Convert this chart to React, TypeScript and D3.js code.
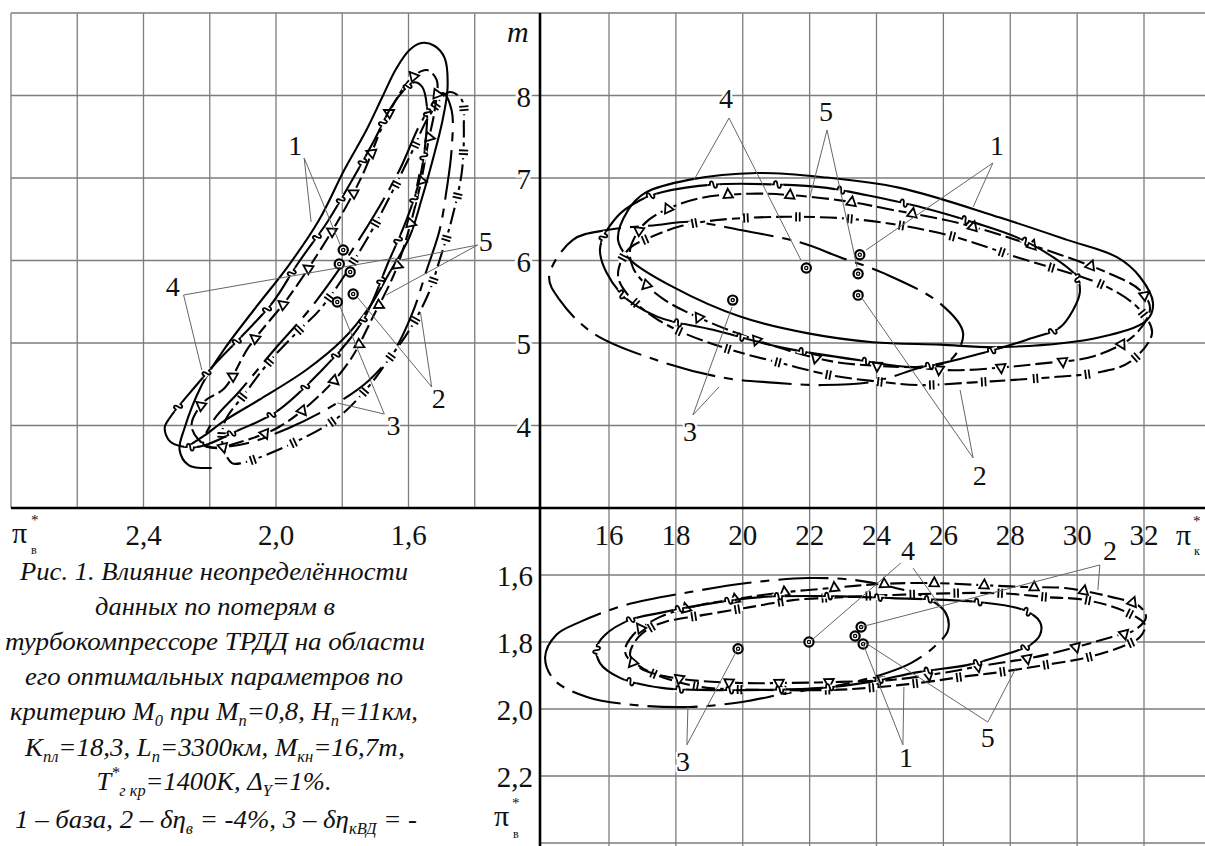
import React, { useEffect, useRef } from "react";
import * as d3 from "d3";

// ---------- axes / ticks ----------
const TL_X_GRID = [2.6, 2.4, 2.2, 2.0, 1.8, 1.6, 1.4];
const TL_X_TICKS = [2.4, 2.0, 1.6];
const M_GRID = [4, 5, 6, 7, 8];
const K_GRID = [16, 18, 20, 22, 24, 26, 28, 30, 32];
const BR_Y_GRID = [1.6, 1.8, 2.0, 2.2, 2.4];
const BR_Y_TICKS = [1.6, 1.8, 2.0, 2.2];

// ---------- top-left panel (pi_v*, m) ----------
const TL_C1 = [[2.233,3.824],[2.255,4.006],[2.218,4.285],[2.155,4.455],[2.082,4.952],[1.964,5.545],[1.876,6.067],[1.806,6.527],[1.739,7.036],[1.667,7.727],[1.591,8.212],[1.545,8.309],[1.515,8.188],[1.521,7.824],[1.539,7.461],[1.570,6.818],[1.636,5.909],[1.709,5.303],[1.776,4.794],[1.861,4.394],[1.991,3.982],[2.118,3.788],[2.188,3.727]];
const TL_C2 = [[2.133,3.545],[2.161,3.764],[2.155,4.042],[2.097,4.370],[2.021,4.770],[1.939,5.121],[1.861,5.436],[1.727,6.248],[1.597,7.255],[1.536,7.764],[1.476,8.042],[1.439,7.945],[1.433,7.618],[1.439,7.073],[1.470,6.491],[1.506,6.006],[1.539,5.606],[1.597,5.158],[1.661,4.794],[1.724,4.455],[1.815,4.091],[1.948,3.788],[2.103,3.545]];
const TL_C3 = [[2.218,3.764],[2.188,4.067],[2.112,4.406],[2.006,4.915],[1.900,5.400],[1.794,5.982],[1.703,6.552],[1.627,7.097],[1.558,7.703],[1.497,8.030],[1.470,7.824],[1.470,7.339],[1.485,6.855],[1.506,6.370],[1.545,5.885],[1.588,5.364],[1.642,4.915],[1.718,4.552],[1.815,4.273],[1.961,3.970],[2.112,3.764]];
const TL_C4 = [[2.194,3.485],[2.264,3.521],[2.291,3.703],[2.276,3.970],[2.224,4.491],[2.158,4.915],[2.067,5.400],[1.961,5.945],[1.870,6.491],[1.794,7.097],[1.727,7.582],[1.679,7.982],[1.636,8.333],[1.597,8.552],[1.561,8.636],[1.521,8.600],[1.491,8.455],[1.482,8.103],[1.497,7.703],[1.527,7.218],[1.561,6.733],[1.597,6.285],[1.658,5.848],[1.718,5.436],[1.800,5.036],[1.909,4.673],[2.052,4.309],[2.152,4.067],[2.218,3.873],[2.264,3.752]];
const TL_C5 = [[2.336,3.970],[2.321,4.091],[2.245,4.467],[2.179,4.770],[2.091,5.133],[2.009,5.497],[1.933,5.970],[1.845,6.467],[1.770,6.976],[1.703,7.461],[1.652,7.861],[1.612,8.070],[1.582,8.160],[1.558,8.100],[1.545,7.885],[1.548,7.461],[1.567,6.976],[1.606,6.491],[1.658,6.006],[1.742,5.242],[1.870,4.636],[2.000,4.164],[2.112,3.945],[2.239,3.739],[2.318,3.800]];
const TL_OPT = [[1.797,6.127],[1.809,5.958],[1.776,5.861],[1.767,5.594],[1.815,5.497]];

// ---------- top-right panel (pi_k*, m) ----------
const TR_C1 = [[16.63,6.13],[17.02,6.43],[17.67,6.61],[18.78,6.76],[20.22,6.81],[21.50,6.79],[23.06,6.72],[24.52,6.61],[26.50,6.45],[28.62,6.19],[30.92,5.85],[31.88,5.64],[32.18,5.42],[31.73,5.10],[30.50,4.84],[28.89,4.75],[27.66,4.70],[26.32,4.67],[25.21,4.70],[22.76,4.77],[20.81,4.98],[18.84,5.28],[17.67,5.52],[17.05,5.73],[16.72,5.91]];
const TR_C2 = [[16.27,5.82],[16.57,6.13],[17.23,6.28],[18.18,6.42],[19.23,6.49],[21.35,6.53],[23.60,6.49],[26.11,6.31],[28.20,6.04],[30.89,5.68],[31.88,5.40],[32.24,5.12],[31.58,4.77],[30.59,4.64],[29.40,4.59],[27.99,4.55],[26.80,4.52],[25.30,4.49],[24.10,4.53],[22.61,4.61],[21.11,4.76],[19.62,4.92],[18.18,5.13],[17.32,5.32],[16.57,5.58]];
const TR_C3 = [[14.21,5.80],[14.92,6.25],[15.94,6.37],[17.44,6.43],[18.42,6.47],[19.92,6.37],[21.71,6.22],[22.91,6.04],[24.19,5.85],[25.90,5.48],[26.59,5.12],[26.20,4.79],[25.30,4.70],[23.89,4.53],[22.40,4.49],[20.90,4.52],[19.41,4.58],[17.44,4.79],[15.52,5.12],[14.53,5.52]];
const TR_C4 = [[16.27,6.25],[16.57,6.61],[17.08,6.82],[18.42,6.98],[20.43,7.06],[22.40,7.01],[24.70,6.88],[27.69,6.52],[29.70,6.25],[31.19,6.04],[31.88,5.80],[32.27,5.48],[32.09,5.28],[30.68,5.07],[27.69,4.95],[25.90,4.98],[23.89,5.01],[21.92,5.12],[19.92,5.32],[17.91,5.68],[16.63,6.01]];
const TR_C5 = [[15.73,6.13],[16.24,6.53],[16.93,6.73],[17.61,6.83],[19.11,6.92],[21.11,6.92],[22.52,6.88],[23.72,6.79],[25.39,6.64],[27.00,6.45],[28.20,6.28],[29.28,6.04],[29.99,5.80],[30.08,5.61],[29.88,5.40],[29.49,5.19],[28.50,5.04],[27.18,4.88],[25.21,4.71],[23.51,4.79],[21.11,4.95],[19.11,5.16],[17.44,5.32],[16.33,5.61]];
const TR_OPT = [[23.50,6.07],[21.90,5.91],[23.45,5.84],[23.45,5.58],[19.70,5.52]];

// ---------- bottom-right panel (pi_k*, pi_v*) ----------
const BR_C1 = [[16.48,1.830],[16.72,1.779],[17.53,1.725],[18.72,1.690],[19.62,1.675],[21.02,1.654],[22.64,1.639],[24.10,1.627],[25.66,1.624],[27.12,1.630],[28.47,1.636],[29.64,1.639],[31.04,1.666],[31.82,1.690],[32.06,1.725],[31.73,1.764],[31.04,1.785],[29.64,1.824],[28.59,1.848],[27.27,1.869],[25.93,1.893],[24.46,1.913],[22.91,1.919],[21.44,1.922],[19.83,1.922],[17.94,1.907],[16.93,1.878]];
const BR_C2 = [[16.63,1.839],[16.81,1.794],[17.23,1.758],[17.67,1.740],[18.84,1.719],[20.22,1.696],[21.50,1.675],[23.00,1.666],[25.30,1.657],[27.60,1.654],[29.10,1.666],[30.29,1.675],[31.46,1.710],[32.03,1.749],[31.88,1.785],[31.46,1.809],[30.35,1.845],[29.01,1.869],[27.69,1.890],[26.56,1.904],[25.30,1.922],[23.75,1.937],[22.70,1.943],[20.52,1.943],[18.72,1.934],[17.44,1.899],[16.87,1.869]];
const BR_C3 = [[14.09,1.845],[14.42,1.779],[15.07,1.743],[16.48,1.690],[18.42,1.651],[20.13,1.624],[21.95,1.609],[23.33,1.615],[24.46,1.636],[25.45,1.666],[26.05,1.710],[26.14,1.764],[25.72,1.815],[25.03,1.863],[24.10,1.899],[22.64,1.934],[21.38,1.952],[19.98,1.979],[18.42,1.994],[16.75,1.988],[15.34,1.964],[14.36,1.913]];
const BR_C5 = [[15.64,1.815],[15.88,1.779],[16.63,1.734],[17.53,1.713],[18.72,1.690],[20.55,1.666],[22.61,1.663],[24.46,1.669],[27.06,1.681],[28.38,1.704],[28.89,1.740],[28.89,1.779],[28.59,1.809],[27.69,1.842],[26.71,1.869],[25.24,1.890],[23.81,1.919],[22.37,1.937],[20.61,1.943],[18.72,1.943],[17.58,1.937],[16.33,1.907],[15.73,1.863]];
const BR_OPT = [[23.60,1.806],[21.98,1.800],[23.36,1.782],[23.54,1.755],[19.86,1.820]];

// ---------- labels with leader lines ----------
const TL_LABELS = [
  { t: "1", at: [1.942, 7.40], lines: [[[1.915, 7.242], [1.806, 6.188]], [[1.915, 7.242], [1.894, 6.467]]] },
  { t: "4", at: [2.312, 5.69], lines: [[[2.279, 5.582], [1.642, 6.030]], [[2.279, 5.582], [2.224, 4.673]]] },
  { t: "5", at: [1.367, 6.23], lines: [[[1.391, 6.188], [1.652, 5.982]], [[1.391, 6.188], [1.667, 5.582]]] },
  { t: "2", at: [1.509, 4.33], lines: [[[1.530, 4.467], [1.755, 5.558]], [[1.530, 4.467], [1.564, 5.376]]] },
  { t: "3", at: [1.645, 4.00], lines: [[[1.673, 4.139], [1.806, 5.436]], [[1.673, 4.139], [1.815, 4.273]]] },
];
const TR_LABELS = [
  { t: "4", at: [19.50, 7.97], lines: [[[19.59, 7.727], [18.54, 6.976]], [[19.59, 7.727], [21.74, 6.006]]] },
  { t: "5", at: [22.49, 7.81], lines: [[[22.52, 7.582], [22.01, 6.770]], [[22.52, 7.582], [23.42, 5.921]]] },
  { t: "1", at: [27.60, 7.40], lines: [[[27.48, 7.182], [23.69, 6.127]], [[27.48, 7.182], [26.89, 6.648]]] },
  { t: "3", at: [18.42, 3.93], lines: [[[18.51, 4.127], [19.68, 5.436]], [[18.51, 4.127], [19.29, 4.467]]] },
  { t: "2", at: [27.09, 3.40], lines: [[[26.89, 3.606], [23.54, 5.558]], [[26.89, 3.606], [26.50, 4.430]]] },
];
const BR_LABELS = [
  { t: "4", at: [24.94, 1.525], lines: [[[24.73, 1.564], [22.07, 1.794]], [[25.09, 1.579], [25.93, 1.696]]] },
  { t: "2", at: [30.98, 1.525], lines: [[[30.68, 1.570], [23.54, 1.755]], [[30.68, 1.570], [30.62, 1.645]]] },
  { t: "1", at: [24.88, 2.145], lines: [[[24.79, 2.107], [23.60, 1.806]], [[24.79, 2.107], [24.82, 1.934]]] },
  { t: "5", at: [27.33, 2.085], lines: [[[27.33, 2.039], [23.63, 1.800]], [[27.33, 2.039], [28.17, 1.878]]] },
  { t: "3", at: [18.21, 2.155], lines: [[[18.33, 2.107], [19.83, 1.824]], [[18.33, 2.107], [18.36, 1.994]]] },
];

// ---------- scales ----------
const W = 1205, H = 846;
const AX = 540, AY = 508;
const xTL = d3.scaleLinear().domain([2.8, 1.2]).range([11, 541]);
const yM = d3.scaleLinear().domain([3, 9]).range([508, 13]);
const xK = d3.scaleLinear().domain([16, 32]).range([609, 1144]);
const yV = d3.scaleLinear().domain([1.4, 2.4]).range([508, 843]);

const SERIF = "'Liberation Serif', Tinos, 'Times New Roman', Times, 'DejaVu Serif', 'Noto Serif', serif";
const GRID = "#7d7d7d";

type Style = "tri" | "bars" | "squig" | "long" | "solid";
const DASH: Record<Style, string | null> = {
  tri: "17 5",
  bars: "17 5",
  squig: null,
  long: "50 9 9 9",
  solid: null,
};

export default function App() {
  const ref = useRef<SVGGElement>(null);

  useEffect(() => {
    const g = d3.select(ref.current);
    g.selectAll("*").remove();

    const drawCurve = (
      data: number[][], xs: any, ys: any, style: Style, closed: boolean,
      spacing: number, offset: number
    ) => {
      const pts = data.map((d) => [xs(d[0]), ys(d[1])] as [number, number]);
      const gen = d3.line().curve(closed ? d3.curveCatmullRomClosed.alpha(0.5) : d3.curveCatmullRom.alpha(0.5));
      const path = g.append("path")
        .attr("d", gen(pts))
        .attr("fill", "none")
        .attr("stroke", "#000")
        .attr("stroke-width", 2.1)
        .attr("stroke-linejoin", "round");
      if (DASH[style]) path.attr("stroke-dasharray", DASH[style]);
      if (style === "long" || style === "solid") return;
      const node = path.node() as SVGPathElement;
      const L = node.getTotalLength();
      const cx = d3.mean(pts, (p) => p[0]) as number;
      const cy = d3.mean(pts, (p) => p[1]) as number;
      for (let s = offset; s < L - 4; s += spacing) {
        const p = node.getPointAtLength(s);
        const a = node.getPointAtLength(Math.max(0, s - 1.5));
        const b = node.getPointAtLength(Math.min(L, s + 1.5));
        const tx = b.x - a.x, ty = b.y - a.y;
        const ang = (Math.atan2(ty, tx) * 180) / Math.PI;
        const mk = g.append("g").attr("transform", `translate(${p.x},${p.y}) rotate(${ang})`);
        mk.append("line").attr("x1", -6).attr("x2", 6).attr("y1", 0).attr("y2", 0)
          .attr("stroke", "#fff").attr("stroke-width", 5);
        if (style === "tri") {
          const nx = -ty, ny = tx;
          const sg = nx * (p.x - cx) + ny * (p.y - cy) > 0 ? 1 : -1;
          mk.append("path")
            .attr("d", `M0,${sg * 5.8} L-4.8,${-sg * 3.2} L4.8,${-sg * 3.2} Z`)
            .attr("fill", "#fff").attr("stroke", "#000").attr("stroke-width", 1.8)
            .attr("stroke-linejoin", "miter");
        } else if (style === "bars") {
          [-1.8, 1.8].forEach((x) =>
            mk.append("line").attr("x1", x).attr("x2", x).attr("y1", -4.6).attr("y2", 4.6)
              .attr("stroke", "#000").attr("stroke-width", 1.8));
        } else if (style === "squig") {
          mk.append("path")
            .attr("d", "M-6,0 L-3.6,0 C-3.6,-4.5 -0.4,-4.5 0,0 C0.4,4.5 3.6,4.5 3.6,0 L6,0")
            .attr("fill", "none").attr("stroke", "#000").attr("stroke-width", 1.8);
        }
      }
    };

    // top-left
    drawCurve(TL_C3, xTL, yM, "long", true, 0, 0);
    drawCurve(TL_C4, xTL, yM, "solid", false, 0, 0);
    drawCurve(TL_C2, xTL, yM, "bars", true, 44, 10);
    drawCurve(TL_C1, xTL, yM, "tri", true, 44, 22);
    drawCurve(TL_C5, xTL, yM, "squig", true, 44, 14);
    // top-right
    drawCurve(TR_C3, xK, yM, "long", true, 0, 0);
    drawCurve(TR_C4, xK, yM, "solid", true, 0, 0);
    drawCurve(TR_C2, xK, yM, "bars", true, 52, 20);
    drawCurve(TR_C1, xK, yM, "tri", true, 62, 30);
    drawCurve(TR_C5, xK, yM, "squig", true, 64, 40);
    // bottom-right
    drawCurve(BR_C3, xK, yV, "long", true, 0, 0);
    drawCurve(BR_C2, xK, yV, "bars", true, 44, 20);
    drawCurve(BR_C1, xK, yV, "tri", true, 50, 10);
    drawCurve(BR_C5, xK, yV, "squig", true, 50, 30);

    // optimum points
    const drawOpt = (data: number[][], xs: any, ys: any) => {
      data.forEach((d) => {
        const x = xs(d[0]), y = ys(d[1]);
        g.append("circle").attr("cx", x).attr("cy", y).attr("r", 4.6)
          .attr("fill", "#fff").attr("stroke", "#000").attr("stroke-width", 2.2);
        g.append("circle").attr("cx", x).attr("cy", y).attr("r", 1.6)
          .attr("fill", "none").attr("stroke", "#000").attr("stroke-width", 1.3);
      });
    };
    drawOpt(TL_OPT, xTL, yM);
    drawOpt(TR_OPT, xK, yM);
    drawOpt(BR_OPT, xK, yV);

    // labels
    const drawLabels = (labels: any[], xs: any, ys: any) => {
      labels.forEach((lb) => {
        lb.lines.forEach((ln: number[][]) => {
          g.append("line")
            .attr("x1", xs(ln[0][0])).attr("y1", ys(ln[0][1]))
            .attr("x2", xs(ln[1][0])).attr("y2", ys(ln[1][1]))
            .attr("stroke", "#666").attr("stroke-width", 1);
        });
        g.append("text")
          .attr("x", xs(lb.at[0])).attr("y", ys(lb.at[1]))
          .attr("dy", "0.35em").attr("text-anchor", "middle")
          .style("font-family", SERIF).attr("font-size", 28)
          .attr("fill", "#111")
          .attr("stroke", "#fff").attr("stroke-width", 4).attr("paint-order", "stroke")
          .text(lb.t);
      });
    };
    drawLabels(TL_LABELS, xTL, yM);
    drawLabels(TR_LABELS, xK, yM);
    drawLabels(BR_LABELS, xK, yV);
  }, []);

  const fmt = (v: number) => v.toFixed(1).replace(".", ",");
  const CAP = { textLength: undefined as any };

  return (
    <svg width={W} height={H}
      style={{ position: "absolute", left: 0, top: 0, background: "#fff", fontFamily: SERIF }}>
      <rect x={0} y={0} width={W} height={H} fill="#fff" />
      {/* grid: top-left */}
      <g stroke={GRID} strokeWidth={1.3}>
        {TL_X_GRID.map((v) => (
          <line key={"tlx" + v} x1={xTL(v)} x2={xTL(v)} y1={yM(9)} y2={AY} />
        ))}
        {M_GRID.map((v) => (
          <line key={"tly" + v} x1={11} x2={AX} y1={yM(v)} y2={yM(v)} />
        ))}
        <line x1={11} x2={11} y1={yM(9)} y2={AY} />
        <line x1={11} x2={W} y1={yM(9)} y2={yM(9)} />
        {/* top-right */}
        {K_GRID.map((v) => (
          <line key={"trx" + v} x1={xK(v)} x2={xK(v)} y1={yM(9)} y2={AY} />
        ))}
        {M_GRID.map((v) => (
          <line key={"try" + v} x1={AX} x2={W} y1={yM(v)} y2={yM(v)} />
        ))}
        {/* bottom-right */}
        {K_GRID.map((v) => (
          <line key={"brx" + v} x1={xK(v)} x2={xK(v)} y1={AY} y2={H} />
        ))}
        {BR_Y_GRID.map((v) => (
          <line key={"bry" + v} x1={AX} x2={W} y1={yV(v)} y2={yV(v)} />
        ))}
      </g>

      {/* tick labels */}
      <g fontSize={29} fill="#111" style={{ fontFamily: SERIF }}>
        {TL_X_TICKS.map((v) => (
          <text key={"tlt" + v} x={xTL(v)} y={545} textAnchor="middle">{fmt(v)}</text>
        ))}
        {K_GRID.map((v) => (
          <text key={"kt" + v} x={xK(v)} y={545} textAnchor="middle">{v}</text>
        ))}
        {M_GRID.map((v) => (
          <text key={"mt" + v} x={531} y={yM(v) + 11} textAnchor="end"
            stroke="#fff" strokeWidth={6} paintOrder="stroke">{v}</text>
        ))}
        {BR_Y_TICKS.map((v) => (
          <text key={"vt" + v} x={533} y={yV(v) + 11} textAnchor="end">{fmt(v)}</text>
        ))}
      </g>

      {/* axis names */}
      <text x={507} y={42} fontSize={30} fontStyle="italic" fill="#111" style={{ fontFamily: SERIF }}>m</text>
      <g fill="#111" style={{ fontFamily: SERIF }}>
        <text x={12} y={543} fontSize={30}>π</text>
        <text x={31} y={525} fontSize={15}>*</text>
        <text x={31} y={554} fontSize={12}>в</text>

        <text x={1176} y={545} fontSize={30}>π</text>
        <text x={1193} y={526} fontSize={15}>*</text>
        <text x={1194} y={555} fontSize={12}>к</text>

        <text x={494} y={826} fontSize={30}>π</text>
        <text x={512} y={808} fontSize={15}>*</text>
        <text x={513} y={838} fontSize={12}>в</text>
      </g>

      {/* main axes */}
      <line x1={11} x2={W} y1={AY} y2={AY} stroke="#000" strokeWidth={2.6} />
      <line x1={AX} x2={AX} y1={yM(9)} y2={H} stroke="#000" strokeWidth={2.6} />

      {/* curves, points, labels */}
      <g ref={ref} />

      {/* caption */}
      <g fontSize={26} fontStyle="italic" fill="#111" textAnchor="middle" style={{ fontFamily: SERIF }}>
        <text x={214} y={580} textLength={388} lengthAdjust="spacingAndGlyphs">Рис. 1. Влияние неопределённости</text>
        <text x={215} y={615} textLength={240} lengthAdjust="spacingAndGlyphs">данных по потерям в</text>
        <text x={215} y={650} textLength={420} lengthAdjust="spacingAndGlyphs">турбокомпрессоре ТРДД на области</text>
        <text x={214} y={685} textLength={378} lengthAdjust="spacingAndGlyphs">его оптимальных параметров по</text>
        <text x={214} y={720} textLength={408} lengthAdjust="spacingAndGlyphs">
          критерию M<tspan dy={6} fontSize={16}>0</tspan>
          <tspan dy={-6}> при M</tspan><tspan dy={6} fontSize={16}>п</tspan>
          <tspan dy={-6}>=0,8, H</tspan><tspan dy={6} fontSize={16}>п</tspan>
          <tspan dy={-6}>=11км,</tspan>
        </text>
        <text x={215} y={756} textLength={380} lengthAdjust="spacingAndGlyphs">
          K<tspan dy={6} fontSize={16}>пл</tspan>
          <tspan dy={-6}>=18,3, L</tspan><tspan dy={6} fontSize={16}>п</tspan>
          <tspan dy={-6}>=3300км, M</tspan><tspan dy={6} fontSize={16}>кн</tspan>
          <tspan dy={-6}>=16,7т,</tspan>
        </text>
        <text x={214} y={790} textLength={235} lengthAdjust="spacingAndGlyphs">
          T<tspan dy={-12} fontSize={16}>*</tspan>
          <tspan dy={18} fontSize={16}>г кр</tspan>
          <tspan dy={-6}>=1400К, Δ</tspan><tspan dy={6} fontSize={16}>Y</tspan>
          <tspan dy={-6}>=1%.</tspan>
        </text>
        <text x={216} y={828} textLength={402} lengthAdjust="spacingAndGlyphs">
          1 – база, 2 – δη<tspan dy={6} fontSize={16}>в</tspan>
          <tspan dy={-6}> = -4%, 3 – δη</tspan><tspan dy={6} fontSize={16}>кВД</tspan>
          <tspan dy={-6}> = -</tspan>
        </text>
      </g>
    </svg>
  );
}
